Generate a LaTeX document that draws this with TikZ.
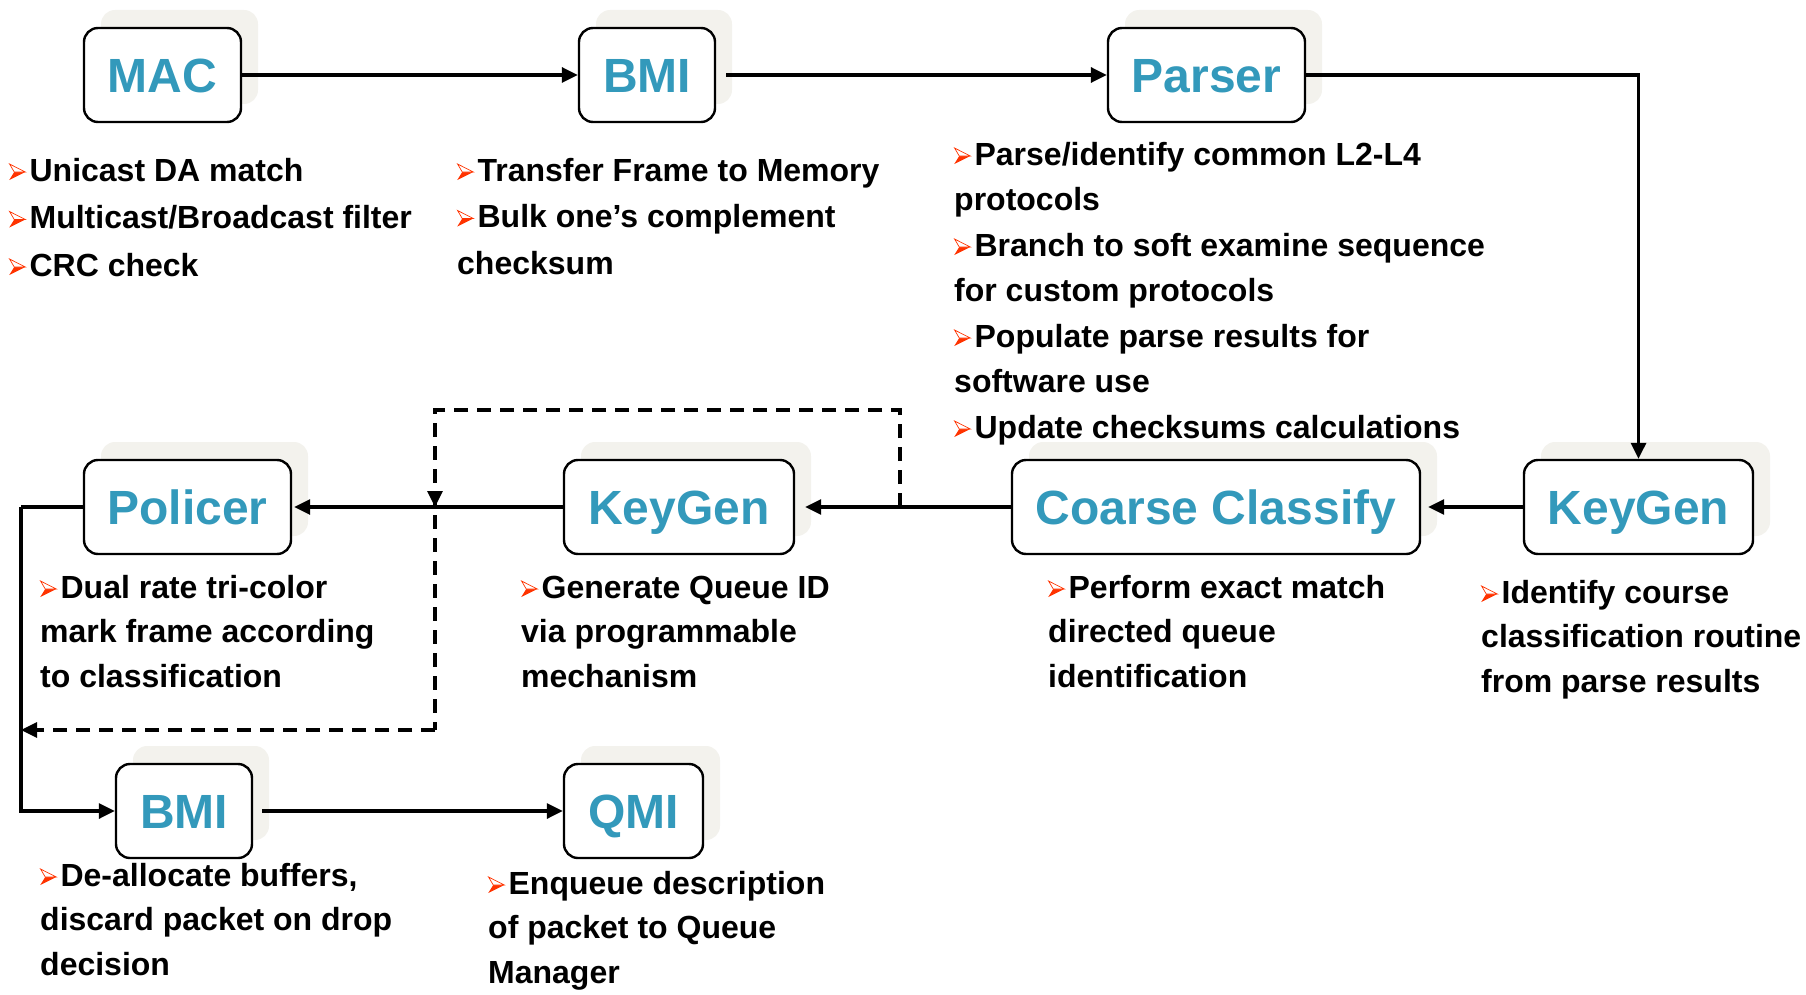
\documentclass[tikz,border=0pt]{standalone}
\usepackage{fontspec}
\setmainfont{Liberation Sans}
\usetikzlibrary{arrows.meta,shadows}
\definecolor{titlec}{RGB}{51,153,187}
\definecolor{shadowc}{RGB}{243,242,237}
\definecolor{bulc}{RGB}{255,51,0}
\newcommand\bul{\tikz[x=1pt,y=1pt,baseline=0pt]{\fill[bulc] (0,1)--(16,9)--(5,9)--cycle; \filldraw[draw=bulc,fill=white,line width=0.7pt,line join=miter] (0.3,17)--(16,9)--(5,9)--cycle;}\hspace{4pt}}
\tikzset{
  blk/.style={draw, line width=2.4pt, rounded corners=14pt, fill=white,
    minimum height=94pt, inner sep=0pt, text=titlec,
    font=\fontsize{48}{48}\selectfont\bfseries, text height=34.5pt, text depth=0pt,
    general shadow={fill=shadowc, draw=none, shadow xshift=17pt, shadow yshift=18pt}},
  txt/.style={anchor=base west, align=left, inner sep=0pt,
    font=\fontsize{32}{45.5}\selectfont\bfseries},
  conn/.style={line width=3.2pt},
  arr/.style={line width=3.2pt, -{Triangle[length=16pt,width=15pt]}},
  dsh/.style={line width=3.2pt, dash pattern=on 14pt off 9pt},
}
\begin{document}
\begin{tikzpicture}[x=1pt,y=-1pt]
\useasboundingbox (0,0) rectangle (1806,995);
% boxes
\node[blk, minimum width=157pt] (mac) at (162.5,75) {MAC};
\node[blk, minimum width=136pt] (bmia) at (647,75) {BMI};
\node[blk, minimum width=197pt] (parser) at (1206.5,75) {Parser};
\node[blk, minimum width=229pt] (kgr) at (1638.5,507) {KeyGen};
\node[blk, minimum width=408pt] (coarse) at (1216,507) {Coarse Classify};
\node[blk, minimum width=230pt] (kgm) at (679,507) {KeyGen};
\node[blk, minimum width=207pt] (pol) at (187.5,507) {Policer};
\node[blk, minimum width=136pt] (bmib) at (184,811) {BMI};
\node[blk, minimum width=139pt] (qmi) at (633.5,811) {QMI};
% texts (anchored at the baseline of their last line)
\node[txt, font=\fontsize{32}{47.5}\selectfont\bfseries] (tmac) at (9,276) {\bul Unicast DA match\\\bul Multicast/Broadcast filter\\\bul CRC check};
\node[txt, font=\fontsize{32}{46.5}\selectfont\bfseries] (tbmia) at (457,274) {\bul Transfer Frame to Memory\\\bul Bulk one’s complement\\checksum};
\node[txt] (tparser) at (954,438) {\bul Parse/identify common L2-L4\\protocols\\\bul Branch to soft examine sequence\\for custom protocols\\\bul Populate parse results for\\software use\\\bul Update checksums calculations};
\node[txt, font=\fontsize{32}{44.5}\selectfont\bfseries] (tpol) at (40,687) {\bul Dual rate tri-color\\mark frame according\\to classification};
\node[txt, font=\fontsize{32}{44.5}\selectfont\bfseries] (tkgm) at (521,687) {\bul Generate Queue ID\\via programmable\\mechanism};
\node[txt, font=\fontsize{32}{44.5}\selectfont\bfseries] (tcoarse) at (1048,687) {\bul Perform exact match\\directed queue\\identification};
\node[txt, font=\fontsize{32}{44.5}\selectfont\bfseries] (tkgr) at (1481,692) {\bul Identify course\\classification routine\\from parse results};
\node[txt, font=\fontsize{32}{44.5}\selectfont\bfseries] (tbmib) at (40,975) {\bul De-allocate buffers,\\discard packet on drop\\decision};
\node[txt, font=\fontsize{32}{44.5}\selectfont\bfseries] (tqmi) at (488,983) {\bul Enqueue description\\of packet to Queue\\Manager};
% connectors
\draw[arr] (mac.east) -- (bmia.west);
\draw[arr, shorten <=10pt] (bmia.east) -- (parser.west);
\draw[arr] (parser.east) -| (kgr.north);
\draw[arr, shorten >=7pt] (kgr.west) -- (coarse.east);
\draw[arr, shorten >=10pt] (coarse.west) -- (kgm.west -| kgm.east);
\draw[arr, shorten >=2pt] (kgm.west) -- (pol.east);
\coordinate (lc) at (21,507);
\draw[conn] (pol.west) -- (lc);
\draw[arr] (lc) |- (bmib.west);
\draw[arr, shorten <=9pt] (bmib.east) -- (qmi.west);
% dashed feedback
\coordinate (d1) at (900,507);
\coordinate (d2) at (435,410);
\coordinate (d3) at (435,730);
\coordinate (d4) at (21,730);
\coordinate (dm) at (435,507);
\draw[dsh] (d1) |- (d2) -- (d3);
\draw[dsh, -{Triangle[length=16pt,width=15pt]}] (d3) -- (d4);
\draw[arr] (435,491) -- (dm);
\end{tikzpicture}
\end{document}
